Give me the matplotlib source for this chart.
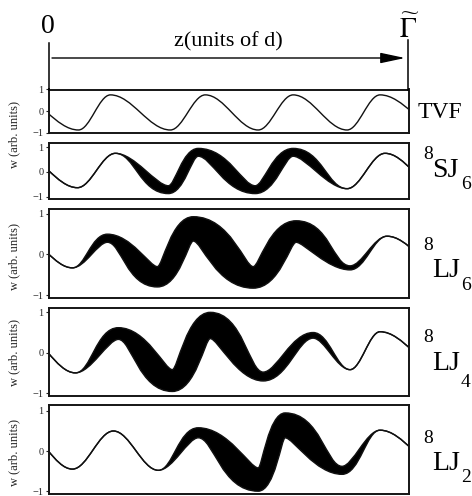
import matplotlib.pyplot as plt
from matplotlib.path import Path
from matplotlib.patches import PathPatch, FancyArrowPatch
from matplotlib.lines import Line2D

plt.rcParams['font.family'] = ['Liberation Serif', 'DejaVu Serif']
plt.rcParams['mathtext.fontset'] = 'stix'

# axial length of the cylinder, z in units of d
GAMMA = 36.1

# Each profile is given by its turning points z and the values of w there.
# Where the profile oscillates it fills a band between an upper and a lower
# edge.  Points outside [0, GAMMA] fix the slope at both ends.
tvf_z = [-3.3, 3.0, 6.2, 12.2, 15.7, 21.0, 24.5, 29.9, 33.2, 39.7]
tvf_w = [0.75, -0.88, 0.75, -0.88, 0.75, -0.88, 0.75, -0.88, 0.75, -0.88]

sj6_z = [-2.9, 2.9, 6.7, 12.0, 15.0, 20.7, 24.5, 29.9, 33.7, 39.2]
sj6_upper = [0.76, -0.64, 0.76, -0.56, 0.96, -0.56, 0.96, -0.68, 0.76, -0.64]
sj6_lower = [0.76, -0.64, 0.76, -0.88, 0.64, -0.88, 0.64, -0.68, 0.76, -0.64]

lj6_z = [-2.6, 2.4, 5.9, 10.9, 14.5, 20.5, 24.8, 30.2, 33.9, 39.7]
lj6_upper = [0.4, -0.33, 0.5, -0.3, 0.93, -0.3, 0.83, -0.28, 0.45, -0.35]
lj6_lower = [0.4, -0.33, 0.3, -0.8, 0.33, -0.83, 0.3, -0.38, 0.45, -0.35]

lj4_z = [-2.8, 2.7, 7.0, 12.4, 16.2, 21.5, 26.5, 30.2, 33.2, 39.7]
lj4_upper = [0.5, -0.5, 0.62, -0.42, 1.0, -0.48, 0.5, -0.42, 0.52, -0.42]
lj4_lower = [0.5, -0.5, 0.33, -0.96, 0.35, -0.7, 0.36, -0.42, 0.52, -0.42]

lj2_z = [-2.6, 2.4, 6.5, 11.0, 15.0, 21.0, 23.7, 29.4, 33.2, 39.7]
lj2_upper = [0.5, -0.45, 0.5, -0.48, 0.58, -0.42, 0.95, -0.38, 0.52, -0.45]
lj2_lower = [0.5, -0.45, 0.5, -0.48, 0.33, -1.0, 0.33, -0.58, 0.52, -0.45]

W, H = 472, 496
fig = plt.figure(figsize=(W / 100, H / 100), dpi=100)


def fx(x):
    return x / W


def fy(y):
    return 1 - y / H


def chain(z, w, k):
    """Cubic Bezier chain, flat at every turning point; k sets how long
    the curve stays flat around each point."""
    verts = [(z[0], w[0])]
    codes = [Path.MOVETO]
    for i in range(len(z) - 1):
        dz = z[i + 1] - z[i]
        verts += [(z[i] + k[i] * dz, w[i]), (z[i + 1] - k[i + 1] * dz, w[i + 1]),
                  (z[i + 1], w[i + 1])]
        codes += [Path.CURVE4] * 3
    return verts, codes


def edge_k(upper, lower, top):
    # outer edge of a thick band turns wide, inner edge turns tight
    ks = []
    n = len(upper)
    for i in range(n):
        t = upper[i] - lower[i]
        nb = upper[i + 1] if i + 1 < n else upper[i - 1]
        peak = upper[i] > nb
        outer = peak if top else not peak
        k = 0.36 + (0.55 * t if outer else -0.42 * t)
        ks.append(min(max(k, 0.14), 0.62))
    return ks


def panel(top, bottom, ylim):
    ax = fig.add_axes([fx(48.5), fy(bottom), fx(409) - fx(48.5), (bottom - top) / H])
    ax.set_xlim(0, GAMMA)
    ax.set_ylim(*ylim)
    ax.set_xticks([])
    ax.set_yticks([-1, 0, 1])
    ax.set_yticklabels(['\u22121', '0', '1'])
    ax.tick_params(axis='y', direction='out', length=2.5, width=0.8, pad=1,
                   labelsize=7.5, colors='#222222')
    for s in ax.spines.values():
        s.set_linewidth(1.4)
        s.set_color('#151515')
    return ax


def draw_band(ax, z, upper, lower):
    ku = edge_k(upper, lower, True)
    kl = edge_k(upper, lower, False)
    vu, cu = chain(z, upper, ku)
    vl, cl = chain(z[::-1], lower[::-1], kl[::-1])
    verts = vu + vl + [(0, 0)]
    codes = cu + [Path.LINETO] + cl[1:] + [Path.CLOSEPOLY]
    ax.add_patch(PathPatch(Path(verts, codes), facecolor='black',
                           edgecolor='none', lw=0))
    for w, k in ((upper, ku), (lower, kl)):
        ax.add_patch(PathPatch(Path(*chain(z, w, k)), fill=False,
                               edgecolor='#111111', lw=1.0))


ax1 = panel(89.5, 133, (-1.02, 1.0))
ax1.add_patch(PathPatch(Path(*chain(tvf_z, tvf_w, [0.36] * len(tvf_z))),
                        fill=False, edgecolor='#111111', lw=1.0))

ax2 = panel(143, 198.5, (-1.08, 1.18))
draw_band(ax2, sj6_z, sj6_upper, sj6_lower)

ax3 = panel(209, 297.5, (-1.06, 1.12))
draw_band(ax3, lj6_z, lj6_upper, lj6_lower)

ax4 = panel(307.5, 395.5, (-1.06, 1.12))
draw_band(ax4, lj4_z, lj4_upper, lj4_lower)

ax5 = panel(404.5, 494, (-1.07, 1.16))
draw_band(ax5, lj2_z, lj2_upper, lj2_lower)

# y labels
for yc in (135, 256, 352, 452):
    fig.text(fx(14), fy(yc), 'w (arb. units)', rotation=90, ha='center',
             va='center', fontsize=9, color='#222222')

# state labels on the right
fig.text(fx(418), fy(118), 'TVF', fontsize=17, va='baseline', ha='left')
states = [('SJ', '6', 159, 177, 189),
          ('LJ', '6', 250, 277, 290),
          ('LJ', '4', 342, 370, 387),
          ('LJ', '2', 443, 470, 482)]
for name, idx, y_sup, y_main, y_sub in states:
    fig.text(fx(423), fy(y_sup), '8', fontsize=14, va='baseline', ha='left')
    fig.text(fx(432), fy(y_main), name, fontsize=20, va='baseline', ha='left')
    fig.text(fx(461), fy(y_sub), idx, fontsize=14, va='baseline', ha='left')

# z axis annotation above the panels
fig.text(fx(47.5), fy(33), '0', fontsize=20, ha='center', va='baseline')
fig.text(fx(409), fy(38), r'$\widetilde{\Gamma}$', fontsize=20, ha='center',
         va='baseline')
fig.text(fx(228), fy(46), 'z(units of d)', fontsize=16, ha='center',
         va='baseline')
fig.add_artist(Line2D([fx(48.5), fx(48.5)], [fy(43), fy(89.5)],
                      transform=fig.transFigure, color='black', lw=1.1))
fig.add_artist(Line2D([fx(408), fx(408)], [fy(40), fy(89.5)],
                      transform=fig.transFigure, color='black', lw=1.1))
fig.add_artist(FancyArrowPatch((fx(52), fy(58)), (fx(405), fy(58)),
                               transform=fig.transFigure,
                               arrowstyle='-|>,head_length=15,head_width=3.2',
                               mutation_scale=1, shrinkA=0, shrinkB=0,
                               color='black', lw=1.0))

fig.savefig('out.png', dpi=100)
